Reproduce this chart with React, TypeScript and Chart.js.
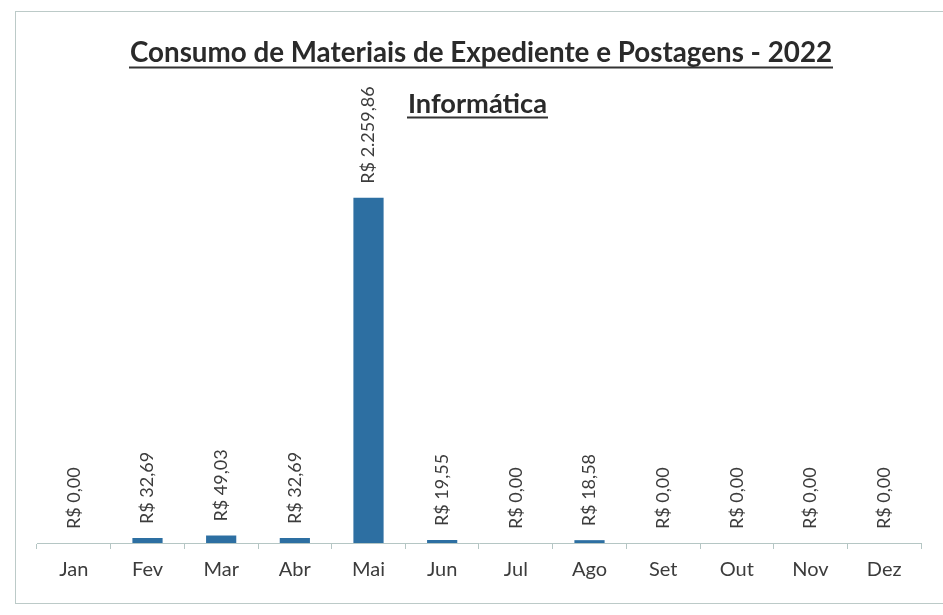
import React, { useEffect, useRef } from "react";
import { Chart, registerables } from "chart.js";

Chart.register(...registerables);

const TITLE_LINE_1 = "Consumo de Materiais de Expediente e Postagens - 2022";
const TITLE_LINE_2 = "Informática";
const MONTHS = ["Jan", "Fev", "Mar", "Abr", "Mai", "Jun", "Jul", "Ago", "Set", "Out", "Nov", "Dez"];
const VALUES = [0, 32.69, 49.03, 32.69, 2259.86, 19.55, 0, 18.58, 0, 0, 0, 0];

const BAR_COLOR = "#2d6fa2";
const AXIS_COLOR = "#b5c6c4";
const TEXT_COLOR = "#3c3c3c";
const FONT = "Lato";

function formatBRL(v: number): string {
  const [intPart, dec] = v.toFixed(2).split(".");
  const withDots = intPart.replace(/\B(?=(\d{3})+(?!\d))/g, ".");
  return "R$ " + withDots + "," + dec;
}

const titlePlugin = {
  id: "underlinedTitles",
  afterDraw(chart: any) {
    const ctx = chart.ctx as CanvasRenderingContext2D;
    const lines = [
      { text: TITLE_LINE_1, left: 130, width: 702, baseline: 62, underline: 67.5 },
      { text: TITLE_LINE_2, left: 408, width: 139, baseline: 113, underline: 117.5 },
    ];
    ctx.save();
    for (const l of lines) {
      ctx.font = `bold 100px ${FONT}`;
      const w100 = ctx.measureText(l.text).width;
      const size = (100 * l.width) / w100;
      ctx.font = `bold ${size.toFixed(2)}px ${FONT}`;
      ctx.fillStyle = "#2a2a2a";
      ctx.textAlign = "left";
      ctx.textBaseline = "alphabetic";
      ctx.fillText(l.text, l.left, l.baseline);
      ctx.fillStyle = "#333333";
      ctx.fillRect(l.left - 1, l.underline - 1, l.width + 2, 2);
    }
    ctx.restore();
  },
};

const valueLabelPlugin = {
  id: "valueLabels",
  afterDatasetsDraw(chart: any) {
    const ctx = chart.ctx as CanvasRenderingContext2D;
    const meta = chart.getDatasetMeta(0);
    ctx.save();
    ctx.font = `18px ${FONT}`;
    ctx.fillStyle = TEXT_COLOR;
    ctx.textAlign = "left";
    ctx.textBaseline = "middle";
    meta.data.forEach((bar: any, i: number) => {
      ctx.save();
      ctx.translate(bar.x, bar.y - 14);
      ctx.rotate(-Math.PI / 2);
      ctx.fillText(formatBRL(VALUES[i]), 0, 0);
      ctx.restore();
    });
    ctx.restore();
  },
};

export default function App() {
  const canvasRef = useRef<HTMLCanvasElement | null>(null);

  useEffect(() => {
    if (!canvasRef.current) return;
    const chart = new Chart(canvasRef.current, {
      type: "bar",
      data: {
        labels: MONTHS,
        datasets: [
          {
            data: VALUES,
            backgroundColor: BAR_COLOR,
            borderWidth: 0,
            barPercentage: 1,
            categoryPercentage: 0.41,
          },
        ],
      },
      options: {
        animation: false,
        responsive: false,
        maintainAspectRatio: false,
        layout: { padding: { left: 37, right: 22, top: 161, bottom: 0 } },
        plugins: {
          legend: { display: false },
          title: { display: false },
          tooltip: { enabled: false },
        },
        scales: {
          x: {
            grid: {
              display: true,
              drawOnChartArea: false,
              drawTicks: true,
              tickLength: 6,
              color: AXIS_COLOR,
              offset: true,
            },
            border: { display: true, color: AXIS_COLOR, width: 1 },
            ticks: {
              color: TEXT_COLOR,
              font: { family: FONT, size: 20 },
              padding: 9,
              maxRotation: 0,
            },
            afterFit: (scale: any) => {
              scale.height = 72;
            },
          },
          y: { display: false, min: 0, max: 2500 },
        },
      },
      plugins: [titlePlugin, valueLabelPlugin],
    });
    return () => chart.destroy();
  }, []);

  return (
    <div
      style={{
        position: "absolute",
        left: 0,
        top: 0,
        width: 943,
        height: 615,
        overflow: "hidden",
        background: "#ffffff",
      }}
    >
      <div
        style={{
          position: "absolute",
          left: 15,
          top: 11,
          width: 1000,
          height: 591,
          border: "1px solid #bccac8",
        }}
      />
      <canvas
        ref={canvasRef}
        width={943}
        height={615}
        style={{ position: "absolute", left: 0, top: 0, width: 943, height: 615 }}
      />
    </div>
  );
}
